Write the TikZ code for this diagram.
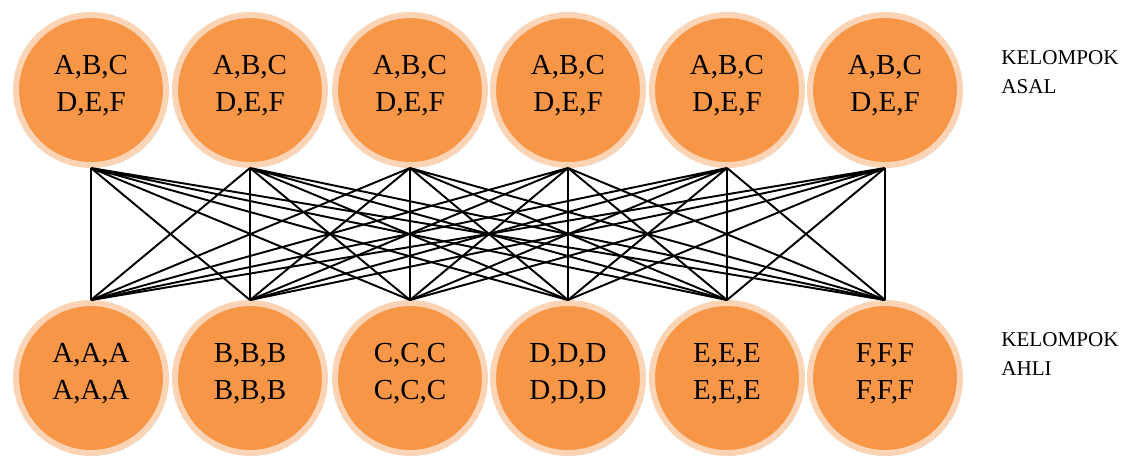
\documentclass[tikz,border=0pt]{standalone}
\usepackage{fontspec}
\setmainfont{Liberation Serif}
\usetikzlibrary{shadows}
\definecolor{oranye}{HTML}{F79646}
\definecolor{pinggir}{HTML}{FAD4B5}
\tikzset{
    grp/.style={circle, fill=oranye, draw=pinggir, line width=0.12cm, minimum size=3cm, inner sep=0pt,
        drop shadow={shadow xshift=1.2pt, shadow yshift=-1.5pt, opacity=0.3}},
    isi/.style={align=center, font=\fontsize{16.5}{21}\selectfont},
    ket/.style={align=left, anchor=base west, inner xsep=0pt, font=\fontsize{12}{16}\selectfont},
    garis/.style={line width=1.1pt}
}

\begin{document}
\begin{tikzpicture}[x=0.02cm, y=-0.02cm]
        \useasboundingbox (0,0) rectangle (1128,461);
        % kelompok asal
        \node [grp] (asal1) at (91,90) {};
        \node [grp] (asal2) at (250,90) {};
        \node [grp] (asal3) at (410,90) {};
        \node [grp] (asal4) at (568,90) {};
        \node [grp] (asal5) at (727,90) {};
        \node [grp] (asal6) at (885,90) {};
        \node [isi] (tasal1) at ([yshift=0.08cm]asal1) {A,B,C\\D,E,F};
        \node [isi] (tasal2) at ([yshift=0.08cm]asal2) {A,B,C\\D,E,F};
        \node [isi] (tasal3) at ([yshift=0.08cm]asal3) {A,B,C\\D,E,F};
        \node [isi] (tasal4) at ([yshift=0.08cm]asal4) {A,B,C\\D,E,F};
        \node [isi] (tasal5) at ([yshift=0.08cm]asal5) {A,B,C\\D,E,F};
        \node [isi] (tasal6) at ([yshift=0.08cm]asal6) {A,B,C\\D,E,F};
        % kelompok ahli
        \node [grp] (ahli1) at (91,378) {};
        \node [grp] (ahli2) at (250,378) {};
        \node [grp] (ahli3) at (410,378) {};
        \node [grp] (ahli4) at (568,378) {};
        \node [grp] (ahli5) at (727,378) {};
        \node [grp] (ahli6) at (885,378) {};
        \node [isi] (tahli1) at ([yshift=0.08cm]ahli1) {A,A,A\\A,A,A};
        \node [isi] (tahli2) at ([yshift=0.08cm]ahli2) {B,B,B\\B,B,B};
        \node [isi] (tahli3) at ([yshift=0.08cm]ahli3) {C,C,C\\C,C,C};
        \node [isi] (tahli4) at ([yshift=0.08cm]ahli4) {D,D,D\\D,D,D};
        \node [isi] (tahli5) at ([yshift=0.08cm]ahli5) {E,E,E\\E,E,E};
        \node [isi] (tahli6) at ([yshift=0.08cm]ahli6) {F,F,F\\F,F,F};
        % garis
        \draw [garis] (asal1.south) -- (ahli1.north) (asal1.south) -- (ahli2.north) (asal1.south) -- (ahli3.north)
            (asal1.south) -- (ahli4.north) (asal1.south) -- (ahli5.north) (asal1.south) -- (ahli6.north);
        \draw [garis] (asal2.south) -- (ahli1.north) (asal2.south) -- (ahli2.north) (asal2.south) -- (ahli3.north)
            (asal2.south) -- (ahli4.north) (asal2.south) -- (ahli5.north) (asal2.south) -- (ahli6.north);
        \draw [garis] (asal3.south) -- (ahli1.north) (asal3.south) -- (ahli2.north) (asal3.south) -- (ahli3.north)
            (asal3.south) -- (ahli4.north) (asal3.south) -- (ahli5.north) (asal3.south) -- (ahli6.north);
        \draw [garis] (asal4.south) -- (ahli1.north) (asal4.south) -- (ahli2.north) (asal4.south) -- (ahli3.north)
            (asal4.south) -- (ahli4.north) (asal4.south) -- (ahli5.north) (asal4.south) -- (ahli6.north);
        \draw [garis] (asal5.south) -- (ahli1.north) (asal5.south) -- (ahli2.north) (asal5.south) -- (ahli3.north)
            (asal5.south) -- (ahli4.north) (asal5.south) -- (ahli5.north) (asal5.south) -- (ahli6.north);
        \draw [garis] (asal6.south) -- (ahli1.north) (asal6.south) -- (ahli2.north) (asal6.south) -- (ahli3.north)
            (asal6.south) -- (ahli4.north) (asal6.south) -- (ahli5.north) (asal6.south) -- (ahli6.north);
        % keterangan
        \node [ket] (kasal) at (1001,93) {KELOMPOK\\ASAL};
        \node [ket] (kahli) at (1001,375) {KELOMPOK\\AHLI};
    \end{tikzpicture}
\end{document}
